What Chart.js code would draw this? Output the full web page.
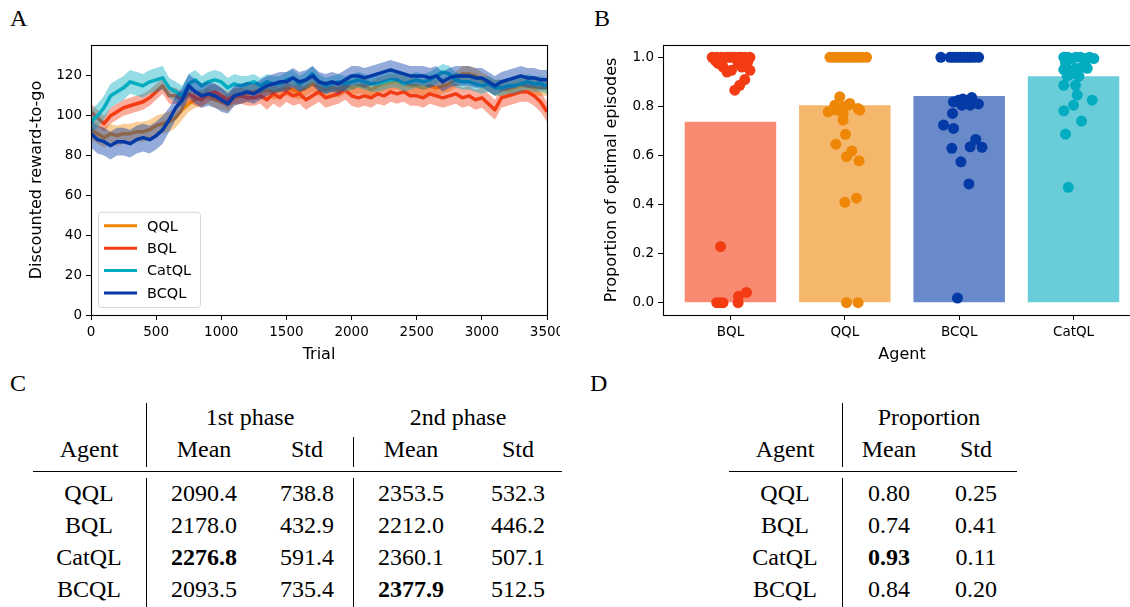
<!DOCTYPE html>
<html>
<head>
<meta charset="utf-8">
<script src="https://cdn.jsdelivr.net/npm/chart.js@4.4.1/dist/chart.umd.min.js"></script>
<style>
  html, body { margin: 0; padding: 0; background: #fff; overflow: hidden; }
  #stage { position: relative; width: 1130px; height: 607px; overflow: hidden; }
  .wrap { position: absolute; }
  .letter { position: absolute; font: 24px "Liberation Serif", serif; color: #000; }
  .cell { position: absolute; width: 160px; height: 30px; line-height: 30px; text-align: center;
          font: 24px "Liberation Serif", serif; color: #000; white-space: nowrap; }
  .rule { position: absolute; background: #000; }
</style>
</head>
<body>
<div id="stage">
  <div class="letter" style="left:10px;top:5px">A</div>
  <div class="letter" style="left:594px;top:5px">B</div>
  <div class="letter" style="left:10px;top:370px">C</div>
  <div class="letter" style="left:590px;top:370px">D</div>
  <div class="wrap" style="left:0;top:0;width:560px;height:370px"><canvas id="rewardChart"></canvas></div>
  <div class="wrap" style="left:560px;top:0;width:590px;height:370px"><canvas id="propChart"></canvas></div>
</div>
<script>
// ---- panel A: discounted reward-to-go, sampled every 50 trials ----
const trials = [0, 50, 100, 150, 200, 250, 300, 350, 400, 450, 500, 550, 600, 650, 700, 750, 800, 850, 900, 950,
  1000, 1050, 1100, 1150, 1200, 1250, 1300, 1350, 1400, 1450, 1500, 1550, 1600, 1650, 1700, 1750, 1800, 1850, 1900, 1950,
  2000, 2050, 2100, 2150, 2200, 2250, 2300, 2350, 2400, 2450, 2500, 2550, 2600, 2650, 2700, 2750, 2800, 2850, 2900, 2950,
  3000, 3050, 3100, 3150, 3200, 3250, 3300, 3350, 3400, 3450, 3500];

const qqlMean = [93, 91, 89, 91, 90, 91, 91, 92, 92, 93, 95, 96, 97, 99, 103, 106, 108, 109, 110, 108,
  107, 106, 109, 110, 111, 112, 112, 113, 112, 113, 114, 113, 112, 114, 116, 114, 113, 114, 113, 115,
  114, 115, 115, 113, 115, 116, 117, 117, 116, 115, 115, 114, 115, 114, 115, 116, 118, 121, 121, 120,
  118, 116, 114, 114, 113, 114, 115, 115, 114, 114, 114];
const bqlMean = [102, 99, 96, 100, 102, 104, 105, 106, 107, 109, 112, 115, 110, 110, 108, 111, 109, 108, 111, 112,
  110, 108, 110, 110, 109, 109, 110, 108, 111, 109, 112, 110, 111, 108, 110, 112, 109, 110, 111, 113,
  110, 109, 110, 109, 111, 110, 112, 111, 112, 110, 110, 109, 111, 110, 109, 110, 111, 109, 110, 108,
  109, 106, 103, 109, 110, 111, 112, 112, 110, 107, 102];
const catqlMean = [97, 100, 104, 110, 112, 114, 117, 116, 115, 117, 118, 119, 114, 112, 110, 116, 118, 115, 117, 118,
  117, 114, 116, 115, 116, 117, 115, 117, 116, 116, 118, 119, 116, 118, 121, 117, 115, 116, 117, 116,
  117, 118, 117, 116, 116, 117, 118, 118, 116, 117, 118, 117, 118, 120, 122, 121, 118, 117, 117, 116,
  115, 116, 114, 114, 115, 115, 116, 117, 116, 116, 115];
const bcqlMean = [91, 88, 87, 85, 87, 87, 86, 88, 89, 88, 90, 93, 98, 104, 108, 115, 112, 110, 111, 110,
  108, 106, 110, 111, 112, 111, 113, 115, 116, 117, 117, 119, 117, 118, 120, 117, 116, 117, 116, 118,
  120, 120, 119, 120, 121, 122, 123, 122, 121, 120, 120, 120, 119, 120, 117, 119, 120, 120, 120, 119,
  119, 117, 115, 117, 118, 119, 120, 119, 119, 118, 118];

const qqlSpread = [5, 5, 5, 5, 5, 5, 5, 5, 5, 5, 5, 5, 5, 5, 5, 4, 4, 4, 4, 4,
  4, 4, 4, 4, 4, 4, 4, 4, 4, 4, 4, 4, 4, 4, 4, 4, 4, 4, 4, 4,
  4, 4, 4, 4, 4, 4, 4, 4, 4, 4, 4, 4, 4, 4, 4, 4, 4, 4, 4, 4,
  4, 4, 4, 4, 4, 4, 4, 4, 4, 4, 4];
const bqlSpread = [4, 4, 4, 4, 4, 4, 4, 4, 4, 4, 4, 4, 4, 4, 4, 4, 4, 4, 4, 4,
  4, 4, 4, 4, 4, 4, 4, 5, 5, 5, 5, 5, 5, 5, 5, 5, 5, 5, 5, 5,
  5, 5, 5, 5, 5, 5, 5, 5, 5, 5, 5, 5, 5, 5, 5, 5, 5, 5, 5, 5,
  5, 5, 5, 5, 5, 5, 5, 5, 5, 5, 5];
const catqlSpread = [6, 6, 6, 6, 6, 6, 6, 6, 6, 6, 6, 6, 5, 5, 5, 5, 5, 5, 5, 5,
  5, 5, 5, 5, 4, 4, 4, 4, 4, 4, 4, 4, 4, 4, 4, 4, 4, 4, 4, 4,
  4, 4, 4, 4, 4, 4, 4, 4, 4, 4, 4, 4, 4, 4, 4, 4, 4, 4, 4, 4,
  4, 4, 4, 4, 4, 4, 4, 4, 4, 4, 4];
const bcqlSpread = [7, 7, 7, 7, 7, 7, 7, 7, 7, 7, 7, 7, 6, 6, 6, 6, 6, 6, 6, 6,
  6, 5, 5, 5, 5, 5, 5, 5, 5, 5, 5, 5, 5, 5, 5, 5, 5, 5, 5, 5,
  5, 5, 5, 5, 5, 5, 5, 5, 5, 5, 5, 5, 5, 5, 5, 5, 5, 5, 5, 5,
  5, 5, 5, 5, 5, 5, 5, 5, 5, 5, 5];

// ---- panel B: proportion of optimal episodes per seed ----
const agentsB = ['BQL', 'QQL', 'BCQL', 'CatQL'];
const barMeans = [0.737, 0.805, 0.842, 0.923];
const bqlProp = [1, 1, 1, 1, 1, 1, 1, 1, 1, 1, 1, 0.985, 0.98, 0.975, 0.975, 0.975, 0.96, 0.96, 0.947, 0.947,
  0.94, 0.909, 0.886, 0.866, 0.229, 0, 0, 0, 0, 0.026, 0.042];
const bqlJitter = [-0.16, -0.12, -0.078, -0.04, -0.02, 0.01, 0.038, 0.07, 0.096, 0.13, 0.17, -0.13, 0.15, -0.107, 0.067, 0.14,
  -0.064, 0.1, 0.009, 0.17, -0.03, 0.125, 0.081, 0.038, -0.087, -0.12, -0.09, -0.065, 0.067, 0.07, 0.14];
const qqlProp = [1, 1, 1, 1, 1, 1, 1, 1, 1, 1, 0.839, 0.805, 0.778, 0.785, 0.798, 0.805, 0.812, 0.744, 0.771, 0.791,
  0.785, 0.686, 0.646, 0.618, 0.595, 0.578, 0.426, 0.409, 0, 0];
const qqlJitter = [-0.13, -0.095, -0.06, -0.025, 0.01, 0.045, 0.08, 0.115, 0.15, 0.19, -0.044, -0.087, -0.145, -0.073, -0.015,
  0.029, 0.044, -0.015, -0.015, 0.116, 0.131, 0.006, -0.078, 0.061, 0.015, 0.125, 0.102, 0, 0.015, 0.116];
const bcqlProp = [1, 1, 1, 1, 1, 1, 1, 1, 1, 1, 0.818, 0.825, 0.83, 0.818, 0.836, 0.805, 0.805, 0.81, 0.771, 0.724,
  0.71, 0.665, 0.635, 0.629, 0.633, 0.574, 0.484, 0.019];
const bcqlJitter = [-0.16, -0.08, -0.05, -0.02, 0.01, 0.04, 0.07, 0.1, 0.13, 0.17, -0.05, -0.006, 0.032, 0.067, 0.11,
  0.023, 0.096, 0.168, -0.058, -0.137, -0.05, 0.145, 0.096, -0.064, 0.2, 0.015, 0.085, -0.015];
const catqlProp = [1, 1, 0.995, 1, 1, 0.995, 1, 0.995, 0.975, 0.97, 0.95, 0.955, 0.955, 0.96, 0.955, 0.93, 0.923, 0.923,
  0.886, 0.886, 0.846, 0.825, 0.805, 0.782, 0.74, 0.687, 0.47];
const catqlJitter = [-0.085, -0.05, -0.02, 0.02, 0.06, 0.1, 0.14, 0.177, -0.07, 0.1, -0.085, -0.055, 0.017, 0.076, 0.12,
  -0.03, -0.055, 0.047, -0.085, 0.017, 0.032, 0.163, 0, -0.085, 0.07, -0.07, -0.046];

// ---- panels C and D: summary tables ----
const tableAgents = ['QQL', 'BQL', 'CatQL', 'BCQL'];
const phase1Mean = [2090.4, 2178.0, 2276.8, 2093.5];
const phase1Std = [738.8, 432.9, 591.4, 735.4];
const phase2Mean = [2353.5, 2212.0, 2360.1, 2377.9];
const phase2Std = [532.3, 446.2, 507.1, 512.5];
const propMean = [0.80, 0.74, 0.93, 0.84];
const propStd = [0.25, 0.41, 0.11, 0.20];

const colors = {
  QQL: [238, 135, 8],
  BQL: [243, 60, 20],
  CatQL: [3, 172, 192],
  BCQL: [3, 58, 166]
};
const rgba = (c, a) => `rgba(${c[0]},${c[1]},${c[2]},${a})`;

Chart.defaults.font.family = 'DejaVu Sans';
Chart.defaults.color = '#000';
Chart.defaults.animation = false;
Chart.defaults.events = [];
Chart.defaults.plugins.legend.display = false;
Chart.defaults.plugins.tooltip.enabled = false;

const tickFont = { size: 13.5 };
const titleFont = { size: 16 };

const frame = {
  id: 'frame',
  afterDraw(chart) {
    const { ctx, chartArea: a } = chart;
    ctx.save();
    ctx.strokeStyle = '#000';
    ctx.lineWidth = 1.1;
    ctx.strokeRect(Math.round(a.left) + 0.5, Math.round(a.top) + 0.5, Math.round(a.right - a.left), Math.round(a.bottom - a.top));
    ctx.restore();
  }
};

function fixSize(prop, px) {
  return function (scale) {
    scale[prop] = px;
    scale.paddingLeft = 0; scale.paddingRight = 0;
    scale.paddingTop = 0; scale.paddingBottom = 0;
  };
}

// ---- chart A ----
const series = [
  { label: 'QQL', mean: qqlMean, spread: qqlSpread, color: colors.QQL },
  { label: 'BQL', mean: bqlMean, spread: bqlSpread, color: colors.BQL },
  { label: 'CatQL', mean: catqlMean, spread: catqlSpread, color: colors.CatQL },
  { label: 'BCQL', mean: bcqlMean, spread: bcqlSpread, color: colors.BCQL }
];

const rewardDatasets = [];
series.forEach((s, i) => {
  const z = (series.length - 1 - i) * 3;
  const low = rewardDatasets.length;
  rewardDatasets.push({
    data: trials.map((t, k) => ({ x: t, y: s.mean[k] - s.spread[k] })),
    borderWidth: 0, borderColor: 'transparent', pointRadius: 0, fill: false, order: z + 3
  });
  rewardDatasets.push({
    data: trials.map((t, k) => ({ x: t, y: s.mean[k] + s.spread[k] })),
    borderWidth: 0, borderColor: 'transparent', pointRadius: 0,
    fill: { target: low }, backgroundColor: rgba(s.color, 0.42), order: z + 2
  });
  rewardDatasets.push({
    label: s.label,
    data: trials.map((t, k) => ({ x: t, y: s.mean[k] })),
    borderColor: rgba(s.color, 1), borderWidth: 3.5, borderJoinStyle: 'round',
    pointRadius: 0, fill: false, order: z + 1
  });
});

const insideLegend = {
  id: 'insideLegend',
  afterDraw(chart) {
    const { ctx, chartArea: a } = chart;
    const rowH = 22.4;
    const x0 = a.left + 7, w = 102;
    const h = 28 + rowH * (series.length - 1);
    const y0 = a.bottom - 8 - h;
    ctx.save();
    ctx.beginPath();
    ctx.roundRect(x0 + 0.5, y0 + 0.5, w, h, 3);
    ctx.fillStyle = 'rgba(255,255,255,0.8)';
    ctx.fill();
    ctx.strokeStyle = '#d6d6d6';
    ctx.lineWidth = 1;
    ctx.stroke();
    ctx.font = '14.5px "DejaVu Sans"';
    ctx.textBaseline = 'middle';
    ctx.fillStyle = '#000';
    series.forEach((s, i) => {
      const y = y0 + 14 + i * rowH;
      ctx.strokeStyle = rgba(s.color, 1);
      ctx.lineWidth = 3;
      ctx.beginPath();
      ctx.moveTo(x0 + 6, y);
      ctx.lineTo(x0 + 39, y);
      ctx.stroke();
      ctx.fillText(s.label, x0 + 49, y + 1);
    });
    ctx.restore();
  }
};

new Chart(document.getElementById('rewardChart'), {
  type: 'line',
  data: { datasets: rewardDatasets },
  options: {
    responsive: true,
    maintainAspectRatio: false,
    layout: { padding: { top: 45, right: 13, left: 0, bottom: 0 } },
    elements: { line: { tension: 0 } },
    scales: {
      x: {
        type: 'linear', min: 0, max: 3500,
        ticks: { stepSize: 500, font: tickFont, padding: 4, maxRotation: 0, includeBounds: false,
                 callback: v => String(v) },
        grid: { drawOnChartArea: false, tickLength: 5, color: '#000' },
        border: { display: false },
        title: { display: true, text: 'Trial', font: titleFont, padding: { top: 0, bottom: 6 } },
        afterFit: fixSize('height', 55)
      },
      y: {
        min: 0, max: 135.5,
        ticks: { stepSize: 20, font: tickFont, padding: 4, includeBounds: false,
                 callback: v => String(v) },
        grid: { drawOnChartArea: false, tickLength: 5, color: '#000' },
        border: { display: false },
        title: { display: true, text: 'Discounted reward-to-go', font: titleFont, padding: { top: 27, bottom: 0 } },
        afterFit: fixSize('width', 91)
      }
    }
  },
  plugins: [frame, insideLegend]
});

// ---- chart B ----
const stripSets = [
  { label: 'BQL', values: bqlProp, jitter: bqlJitter },
  { label: 'QQL', values: qqlProp, jitter: qqlJitter },
  { label: 'BCQL', values: bcqlProp, jitter: bcqlJitter },
  { label: 'CatQL', values: catqlProp, jitter: catqlJitter }
];

const propDatasets = [{
  type: 'bar',
  data: agentsB.map((a, i) => ({ x: i, y: barMeans[i] })),
  backgroundColor: agentsB.map(a => rgba(colors[a], 0.6)),
  borderWidth: 0,
  barPercentage: 0.8,
  categoryPercentage: 1,
  order: 10
}];
stripSets.forEach(s => {
  const i = agentsB.indexOf(s.label);
  propDatasets.push({
    type: 'scatter',
    data: s.values.map((v, k) => ({ x: i + s.jitter[k], y: v })),
    backgroundColor: rgba(colors[s.label], 1),
    borderWidth: 0,
    pointRadius: 5.5,
    order: 1
  });
});

new Chart(document.getElementById('propChart'), {
  type: 'bar',
  data: { datasets: propDatasets },
  options: {
    responsive: true,
    maintainAspectRatio: false,
    layout: { padding: { top: 45, right: 9, left: 0, bottom: 0 } },
    scales: {
      x: {
        type: 'linear', min: -0.59, max: 3.59, offset: false,
        ticks: { stepSize: 1, font: tickFont, padding: 4, maxRotation: 0, includeBounds: false,
                 callback: v => agentsB[v] },
        grid: { drawOnChartArea: false, tickLength: 5, color: '#000', offset: false },
        border: { display: false },
        title: { display: true, text: 'Agent', font: titleFont, padding: { top: 0, bottom: 6 } },
        afterFit: fixSize('height', 55)
      },
      y: {
        min: -0.05, max: 1.05,
        ticks: { stepSize: 0.2, font: tickFont, padding: 4, includeBounds: false,
                 callback: v => v.toFixed(1) },
        grid: { drawOnChartArea: false, tickLength: 5, color: '#000' },
        border: { display: false },
        title: { display: true, text: 'Proportion of optimal episodes', font: titleFont, padding: { top: 42, bottom: 0 } },
        afterFit: fixSize('width', 103)
      }
    }
  },
  plugins: [frame]
});

// ---- tables ----
const stage = document.getElementById('stage');
function cell(text, cx, cy, bold) {
  const d = document.createElement('div');
  d.className = 'cell';
  d.style.left = (cx - 80) + 'px';
  d.style.top = (cy - 15) + 'px';
  if (bold) d.style.fontWeight = 'bold';
  d.textContent = text;
  stage.appendChild(d);
}
function rule(x, y, w, h) {
  const d = document.createElement('div');
  d.className = 'rule';
  Object.assign(d.style, { left: x + 'px', top: y + 'px', width: w + 'px', height: h + 'px' });
  stage.appendChild(d);
}
const rowY = [495, 527, 559, 591];
const isMax = (arr, v) => v === Math.max(...arr);

// table C
cell('1st phase', 250, 419);
cell('2nd phase', 458, 419);
['Agent', 'Mean', 'Std', 'Mean', 'Std'].forEach((t, j) => cell(t, [89, 204, 307, 411, 518][j], 451));
rule(33, 471, 529, 1.4);
rule(146, 403, 1, 64); rule(146, 478, 1, 129);
rule(353, 437, 1, 30); rule(353, 478, 1, 129);
tableAgents.forEach((a, r) => {
  cell(a, 89, rowY[r]);
  cell(phase1Mean[r].toFixed(1), 204, rowY[r], isMax(phase1Mean, phase1Mean[r]));
  cell(phase1Std[r].toFixed(1), 307, rowY[r]);
  cell(phase2Mean[r].toFixed(1), 411, rowY[r], isMax(phase2Mean, phase2Mean[r]));
  cell(phase2Std[r].toFixed(1), 518, rowY[r]);
});

// table D
cell('Proportion', 929, 419);
['Agent', 'Mean', 'Std'].forEach((t, j) => cell(t, [785, 889, 976][j], 451));
rule(729, 471, 288, 1.4);
rule(842, 403, 1, 64); rule(842, 478, 1, 129);
tableAgents.forEach((a, r) => {
  cell(a, 785, rowY[r]);
  cell(propMean[r].toFixed(2), 889, rowY[r], isMax(propMean, propMean[r]));
  cell(propStd[r].toFixed(2), 976, rowY[r]);
});
</script>
</body>
</html>
